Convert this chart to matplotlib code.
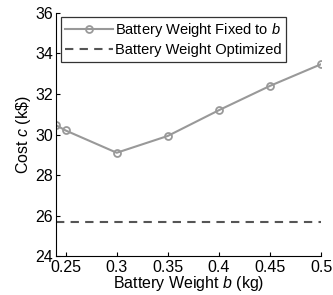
import numpy as np
import matplotlib
matplotlib.use('Agg')
import matplotlib.pyplot as plt

plt.rcParams['font.family'] = 'Liberation Sans'
plt.rcParams['mathtext.fontset'] = 'custom'
plt.rcParams['mathtext.rm'] = 'Liberation Sans'
plt.rcParams['mathtext.it'] = 'Liberation Sans:italic'

# data
weights = [0.241, 0.25, 0.30, 0.35, 0.40, 0.45, 0.50]
cost_fixed = [30.45, 30.2, 29.1, 29.93, 31.2, 32.4, 33.47]
cost_opt = 25.7

xticks = [0.25, 0.3, 0.35, 0.4, 0.45, 0.5]
xticklabels = ['0.25', '0.3', '0.35', '0.4', '0.45', '0.5']
yticks = [24, 26, 28, 30, 32, 34, 36]

fig = plt.figure(figsize=(3.33, 2.95), dpi=100)
ax = fig.add_axes([0.168, 0.132, 0.796, 0.824])

ax.plot(weights, cost_fixed, '-o', color='#999999', lw=1.5, ms=5,
        mfc='none', mec='#999999', mew=1.3, label=r'Battery Weight Fixed to $b$')
ax.plot([weights[0], weights[-1]], [cost_opt, cost_opt], '--', color='#555555',
        lw=1.5, dashes=(4, 3), label='Battery Weight Optimized')

ax.set_xlim(0.2405, 0.5)
ax.set_ylim(24, 36)
ax.set_xticks(xticks)
ax.set_xticklabels(xticklabels)
ax.set_yticks(yticks)
ax.tick_params(direction='in', length=3, labelsize=11.5, width=0.8)
ax.tick_params(axis='y', pad=2)
ax.tick_params(axis='x', pad=3)
ax.spines['top'].set_visible(False)
ax.spines['right'].set_visible(False)
ax.set_xlabel(r'Battery Weight $b$ (kg)', fontsize=11.5, labelpad=-1)
ax.set_ylabel(r'Cost $c$ (k\$)', fontsize=11.5, labelpad=2)

leg = ax.legend(loc='upper left', bbox_to_anchor=(0.018, 0.985), fontsize=10.5,
                frameon=True, fancybox=False, edgecolor='black',
                handlelength=3.3, handletextpad=0.15, borderpad=0.3,
                labelspacing=0.3, borderaxespad=0)
leg.get_frame().set_linewidth(0.9)

fig.savefig('out.png', dpi=100)
